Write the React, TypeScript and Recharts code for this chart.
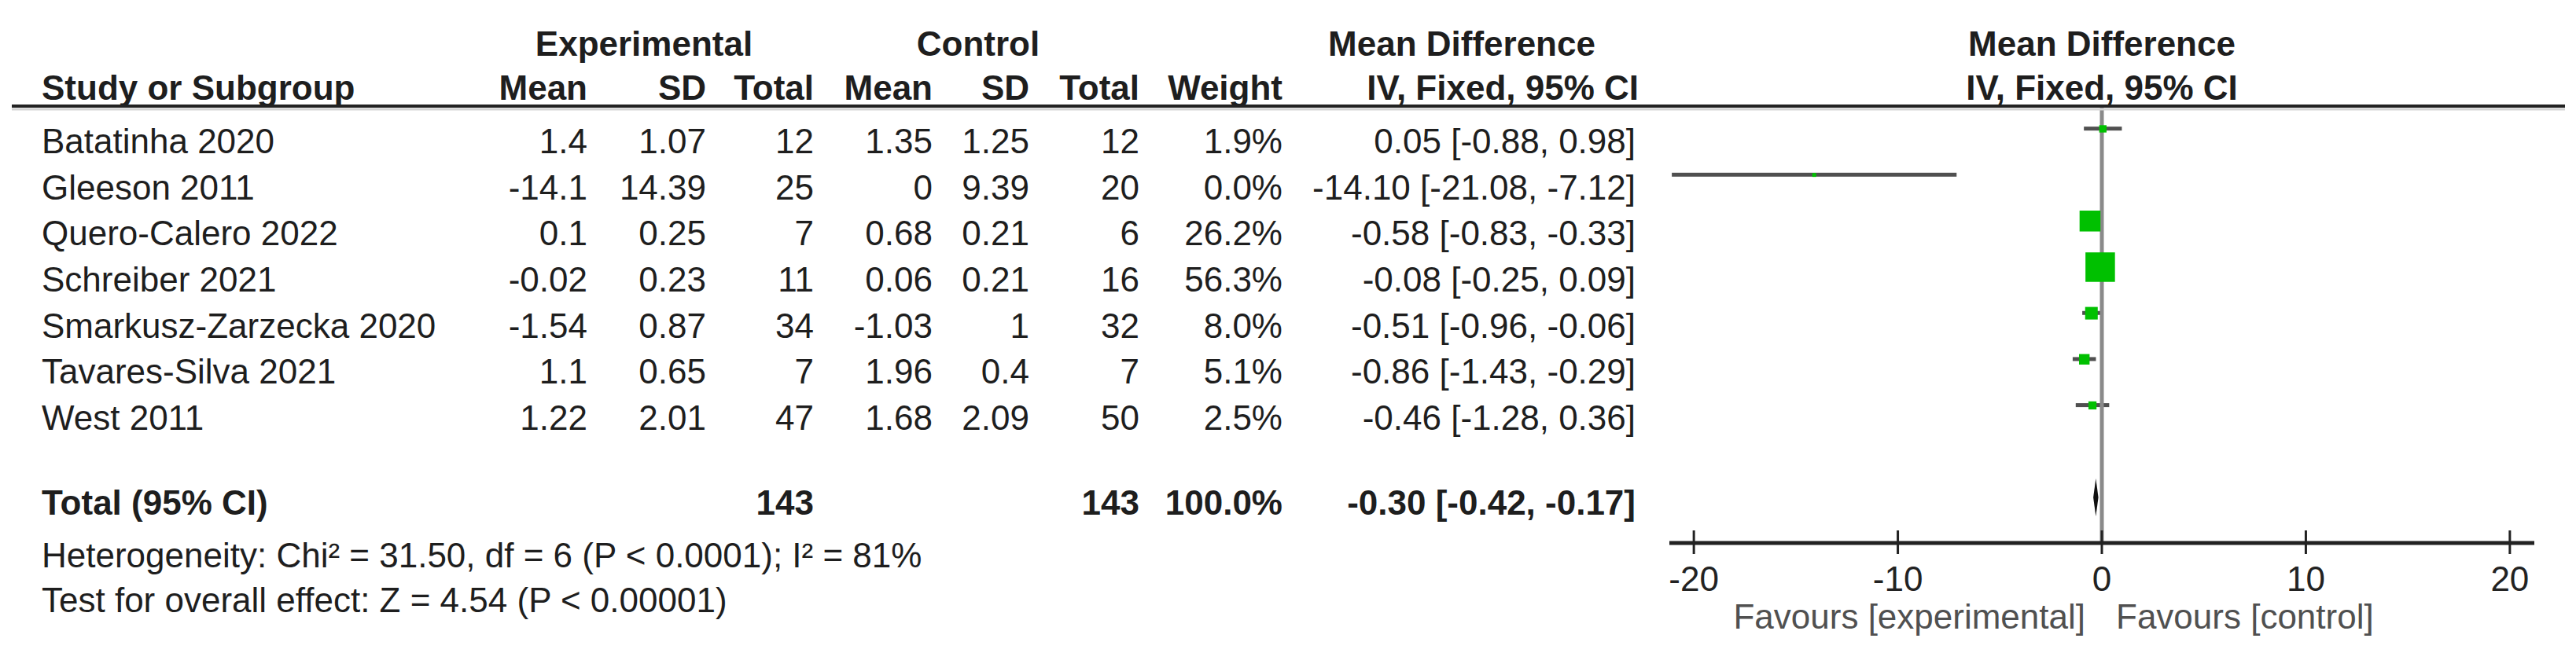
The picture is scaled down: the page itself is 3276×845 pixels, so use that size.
import React from 'react';
import { ComposedChart, Bar, Scatter, XAxis, YAxis, ReferenceLine } from 'recharts';

const studies = [
  'Batatinha 2020',
  'Gleeson 2011',
  'Quero-Calero 2022',
  'Schreiber 2021',
  'Smarkusz-Zarzecka 2020',
  'Tavares-Silva 2021',
  'West 2011',
];
const expMean = [1.4, -14.1, 0.1, -0.02, -1.54, 1.1, 1.22];
const expSd = [1.07, 14.39, 0.25, 0.23, 0.87, 0.65, 2.01];
const expN = [12, 25, 7, 11, 34, 7, 47];
const ctrlMean = [1.35, 0, 0.68, 0.06, -1.03, 1.96, 1.68];
const ctrlSd = [1.25, 9.39, 0.21, 0.21, 1, 0.4, 2.09];
const ctrlN = [12, 20, 6, 16, 32, 7, 50];
const weights = [1.9, 0.0, 26.2, 56.3, 8.0, 5.1, 2.5];
const meanDiff = [0.05, -14.1, -0.58, -0.08, -0.51, -0.86, -0.46];
const ciLow = [-0.88, -21.08, -0.83, -0.25, -0.96, -1.43, -1.28];
const ciHigh = [0.98, -7.12, -0.33, 0.09, -0.06, -0.29, 0.36];

const totalExpN = 143;
const totalCtrlN = 143;
const totalWeight = 100.0;
const totalMd = -0.3;
const totalLow = -0.42;
const totalHigh = -0.17;
const heterogeneity = 'Heterogeneity: Chi\u00b2 = 31.50, df = 6 (P < 0.0001); I\u00b2 = 81%';
const overallTest = 'Test for overall effect: Z = 4.54 (P < 0.00001)';

const xTicks = [-20, -10, 0, 10, 20];

const W = 3276;
const H = 845;
const font = "'Liberation Sans', Arial, Helvetica, sans-serif";
const FS = 44;

const rows = studies.map((name, i) => ({
  row: i,
  name,
  md: meanDiff[i],
  ci: [ciLow[i], ciHigh[i]],
  weight: weights[i],
}));
const chartData = [
  ...rows,
  { row: 8, name: 'Total (95% CI)', md: totalMd, ci: [totalLow, totalHigh], weight: totalWeight, isTotal: true },
];

// column right edges for the table
const colRight = [747, 898, 1035, 1186, 1309, 1449, 1631, 2084];
const rowBase = (i: number) => 195 + i * 58.65;
const ciText = (m: number, lo: number, hi: number) => `${m.toFixed(2)} [${lo.toFixed(2)}, ${hi.toFixed(2)}]`;

const CiShape = (props: any) => {
  const { x, y, width, height, payload } = props;
  const cy = y + height / 2;
  if (payload && payload.isTotal) {
    const h = 24;
    return (
      <polygon
        points={`${x},${cy} ${x + width / 2},${cy - h} ${x + width},${cy} ${x + width / 2},${cy + h}`}
        fill="#111"
      />
    );
  }
  return <rect x={x} y={cy - 2.5} width={width} height={5} fill="#505050" />;
};

const Square = (props: any) => {
  const { cx, cy, payload } = props;
  const s = Math.max(5, 3 + 4.6 * Math.sqrt(payload.weight));
  return <rect x={cx - s / 2} y={cy - s / 2} width={s} height={s} fill="#00c000" />;
};

const AxisTick = (props: any) => {
  const { x, y, payload } = props;
  return (
    <g>
      <line x1={x} x2={x} y1={y - 16} y2={y + 14} stroke="#222" strokeWidth={3} />
      <text x={x} y={y + 61} textAnchor="middle" fontSize={FS} fill="#222" fontFamily={font}>
        {payload.value}
      </text>
    </g>
  );
};

function Table() {
  const t = (x: number, y: number, s: string, anchor: string = 'end', bold = false, fill = '#1e1e1e') => (
    <text x={x} y={y} textAnchor={anchor} fontWeight={bold ? 'bold' : 'normal'} fill={fill}>
      {s}
    </text>
  );
  return (
    <svg
      width={W}
      height={H}
      style={{ position: 'absolute', left: 0, top: 0, pointerEvents: 'none' }}
      fontFamily={font}
      fontSize={FS}
    >
      {/* group headers */}
      {t(819, 71, 'Experimental', 'middle', true)}
      {t(1244, 71, 'Control', 'middle', true)}
      {t(1859, 71, 'Mean Difference', 'middle', true)}
      {t(2673, 71, 'Mean Difference', 'middle', true)}
      {t(53, 127, 'Study or Subgroup', 'start', true)}
      {['Mean', 'SD', 'Total', 'Mean', 'SD', 'Total', 'Weight', 'IV, Fixed, 95% CI'].map((h, i) => (
        <React.Fragment key={'h' + i}>{t(colRight[i], 127, h, 'end', true)}</React.Fragment>
      ))}
      {t(2673, 127, 'IV, Fixed, 95% CI', 'middle', true)}
      <line x1={15} x2={3262} y1={139} y2={139} stroke="#d4d4d4" strokeWidth={3} />
      <line x1={15} x2={3262} y1={135} y2={135} stroke="#222" strokeWidth={4} />

      {studies.map((s, i) => {
        const y = rowBase(i);
        const cells = [
          String(expMean[i]),
          String(expSd[i]),
          String(expN[i]),
          String(ctrlMean[i]),
          String(ctrlSd[i]),
          String(ctrlN[i]),
          weights[i].toFixed(1) + '%',
          ciText(meanDiff[i], ciLow[i], ciHigh[i]),
        ];
        return (
          <g key={s}>
            {t(53, y, s, 'start')}
            {cells.map((c, j) => (
              <React.Fragment key={j}>{t(colRight[j] - (j === 7 ? 4 : 0), y, c)}</React.Fragment>
            ))}
          </g>
        );
      })}

      {t(53, 655, 'Total (95% CI)', 'start', true)}
      {t(colRight[2], 655, String(totalExpN), 'end', true)}
      {t(colRight[5], 655, String(totalCtrlN), 'end', true)}
      {t(colRight[6], 655, totalWeight.toFixed(1) + '%', 'end', true)}
      {t(colRight[7] - 4, 655, ciText(totalMd, totalLow, totalHigh), 'end', true)}
      {t(53, 722, heterogeneity, 'start')}
      {t(53, 779, overallTest, 'start')}

      {t(2652, 800, 'Favours [experimental]', 'end', false, '#505050')}
      {t(2691, 800, 'Favours [control]', 'start', false, '#505050')}
    </svg>
  );
}

export default function App() {
  return (
    <div style={{ position: 'absolute', left: 0, top: 0, width: W, height: H, background: '#fff' }}>
      <ComposedChart
        width={W}
        height={H}
        layout="vertical"
        data={chartData}
        margin={{ top: 135, right: 53, bottom: 0, left: 2123 }}
      >
        <XAxis
          type="number"
          domain={[-21.2, 21.2]}
          ticks={xTicks}
          interval={0}
          allowDataOverflow
          axisLine={{ stroke: '#222', strokeWidth: 5 }}
          tickLine={false}
          tickSize={0}
          tickMargin={0}
          tick={<AxisTick />}
          height={154}
        />
        <YAxis type="number" dataKey="row" domain={[-0.494, 8.985]} hide allowDataOverflow />
        <ReferenceLine x={0} stroke="#8a8a8a" strokeWidth={5} />
        <Bar dataKey="ci" barSize={48} shape={<CiShape />} isAnimationActive={false} />
        <Scatter data={rows} dataKey="md" shape={<Square />} isAnimationActive={false} />
      </ComposedChart>
      <Table />
    </div>
  );
}
